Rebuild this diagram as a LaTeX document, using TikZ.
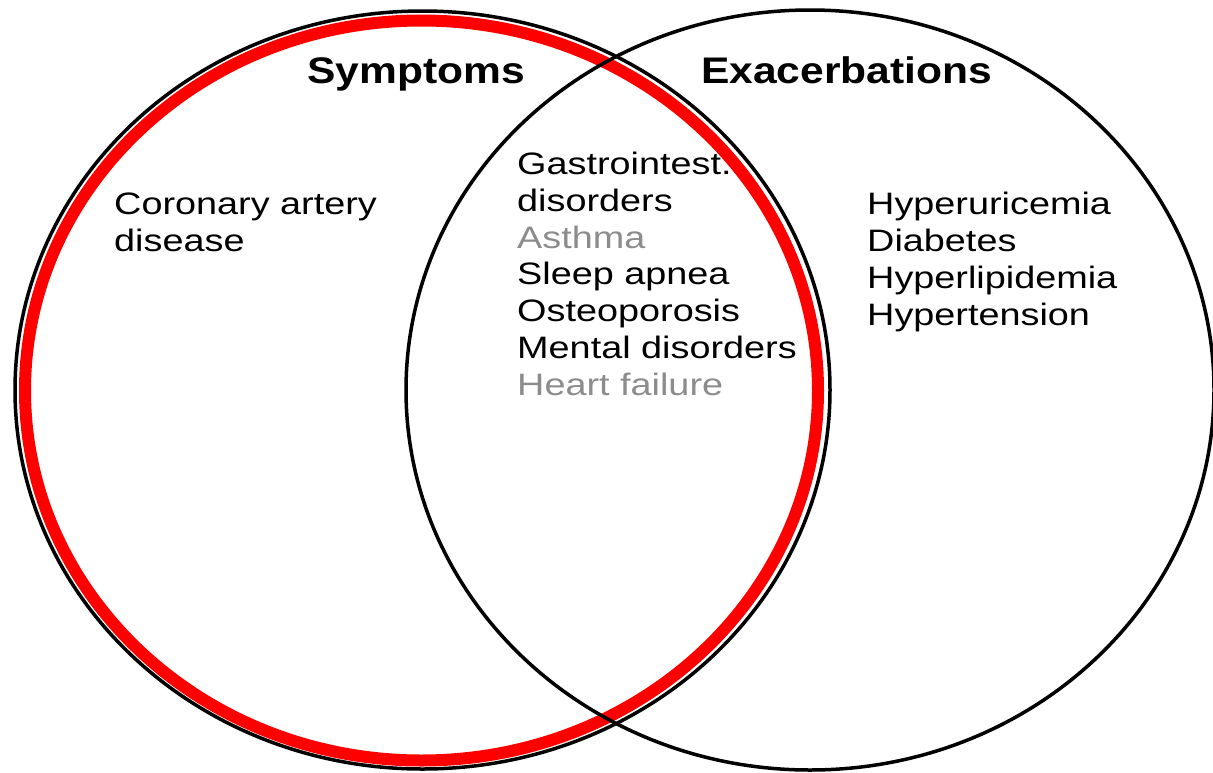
\documentclass[tikz,border=0pt]{standalone}
\usepackage{fontspec}
\setmainfont{Liberation Sans}
\newfontfamily\labelfont[FakeStretch=1.22]{Liberation Sans}
\newfontfamily\titlefont[FakeStretch=1.15]{Liberation Sans}
\definecolor{fadedgray}{RGB}{140,140,140}
\begin{document}
\begin{tikzpicture}[x=1pt,y=-1pt,
  ring/.style={draw=black,line width=3.5pt},
  redring/.style={draw=red,line width=12pt},
  heading/.style={font=\titlefont\fontsize{37}{40}\selectfont\bfseries,anchor=base west,inner sep=0pt},
  item/.style={font=\labelfont\fontsize{31}{36.7}\selectfont,anchor=base west,inner sep=0pt,align=left}]
\useasboundingbox (0,0) rectangle (1213,772);
% highlighted set, then the two set outlines
\draw[redring] (421.5,390.5) ellipse [x radius=396.5, y radius=370];
\draw[ring] (422.5,390) ellipse [x radius=407.5, y radius=379];
\draw[ring] (810,390) ellipse [x radius=404, y radius=380];
% set titles
\node[heading] (symptoms) at (307,83) {Symptoms};
\node[heading] (exacerb) at (701,83) {Exacerbations};
% members of each region (anchored at the baseline of the last line)
\node[item] (left) at (114,251) {Coronary artery\\disease};
\node[item] (middle) at (517,395) {Gastrointest.\\disorders\\{\color{fadedgray}Asthma}\\Sleep apnea\\Osteoporosis\\Mental disorders\\{\color{fadedgray}Heart failure}};
\node[item] (right) at (867,325) {Hyperuricemia\\Diabetes\\Hyperlipidemia\\Hypertension};
\end{tikzpicture}
\end{document}
